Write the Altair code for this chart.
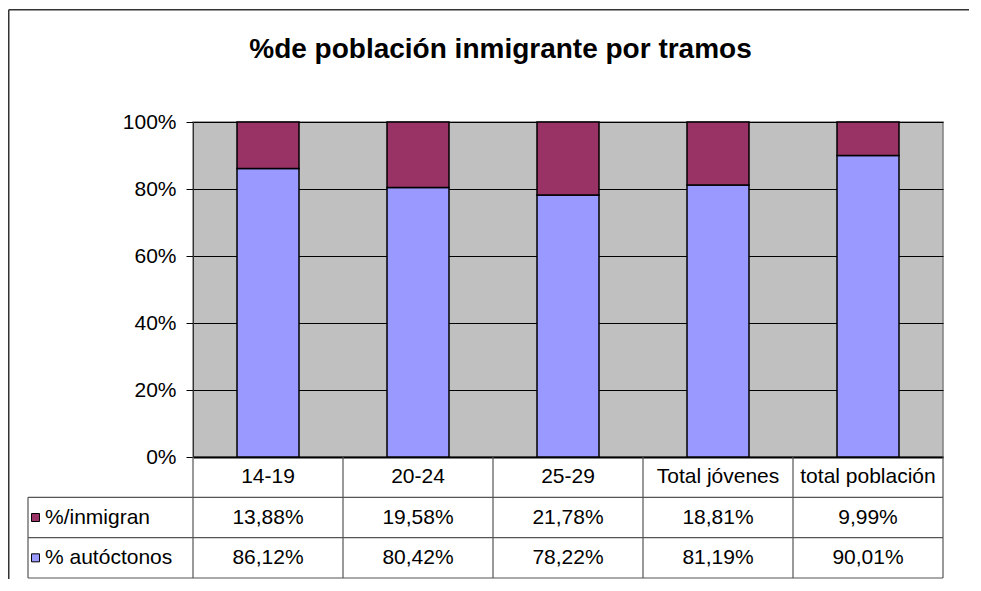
import altair as alt
import pandas as pd

# ---- data ----
categories = ["14-19", "20-24", "25-29", "Total jóvenes", "total población"]
series = ["%/inmigran", "% autóctonos"]
inmigran = [13.88, 19.58, 21.78, 18.81, 9.99]
autoctonos = [86.12, 80.42, 78.22, 81.19, 90.01]
y_ticks = [0, 20, 40, 60, 80, 100]
colors = ["#993366", "#9999FF"]
title_text = "%de población inmigrante por tramos"

FONT = "Liberation Sans"
W, H = 750, 335          # plot area
COLW = W / len(categories)
LEFT = -1.1              # legend column left edge, in column units
NROW = 3
ROWH = 121               # total table height in px
PAD = {"left": 185, "top": 114, "right": 30, "bottom": 126}


def pct(v):
    return f"{v:.2f}".replace(".", ",") + "%"


# ---- tables built from the arrays ----
bar_rows = []
for i, c in enumerate(categories):
    bar_rows.append({"cat": c, "serie": series[1], "value": autoctonos[i], "ord": 0})
    bar_rows.append({"cat": c, "serie": series[0], "value": inmigran[i], "ord": 1})
bars_df = pd.DataFrame(bar_rows)

cell_rows = []
for i, c in enumerate(categories):
    cell_rows.append({"col": i + 0.5, "row": 0.5, "text": c})
    cell_rows.append({"col": i + 0.5, "row": 1.5, "text": pct(inmigran[i])})
    cell_rows.append({"col": i + 0.5, "row": 2.5, "text": pct(autoctonos[i])})
cells_df = pd.DataFrame(cell_rows)

legend_df = pd.DataFrame({
    "serie": series,
    "row": [1.5, 2.5],
    "col": [LEFT + 0.05, LEFT + 0.05],
    "tcol": [LEFT, LEFT],
})

hl_df = pd.DataFrame({"row": [1, 2, 3], "col": [LEFT] * 3, "col2": [len(categories)] * 3})
vl_cols = list(range(len(categories) + 1)) + [LEFT]
vl_df = pd.DataFrame({
    "col": vl_cols,
    "row": [0] * (len(categories) + 1) + [1],
    "row2": [NROW] * len(vl_cols),
})
one_df = pd.DataFrame({"a": [0]})

tx = alt.Scale(domain=[LEFT, len(categories)], range=[LEFT * COLW, W], nice=False, zero=False)
ty = alt.Scale(domain=[0, NROW], range=[H, H + ROWH], nice=False, zero=False)
color_scale = alt.Scale(domain=series, range=colors)

bars = alt.Chart(bars_df).mark_bar(
    stroke="black", strokeWidth=1.5, width=alt.RelativeBandSize(62 / 150)
).encode(
    x=alt.X("cat:N", sort=categories,
            scale=alt.Scale(domain=categories, paddingInner=0, paddingOuter=0),
            axis=alt.Axis(labels=False, ticks=False, title=None,
                          domainColor="black", domainWidth=2)),
    y=alt.Y("value:Q", stack="zero",
            scale=alt.Scale(domain=[0, 100], nice=False),
            axis=alt.Axis(values=y_ticks, labelExpr="datum.value + '%'", title=None,
                          grid=True, gridColor="black", gridWidth=1,
                          tickColor="black", tickSize=7, labelPadding=10,
                          labelFontSize=21, labelFont=FONT, labelColor="black",
                          domainColor="#333")),
    color=alt.Color("serie:N", scale=color_scale, legend=None),
    order=alt.Order("ord:Q"),
)

hlines = alt.Chart(hl_df).mark_rule(color="#555", strokeWidth=1.2).encode(
    x=alt.X("col:Q", scale=tx, axis=None), x2="col2:Q",
    y=alt.Y("row:Q", scale=ty, axis=None),
)
vlines = alt.Chart(vl_df).mark_rule(color="#555", strokeWidth=1.2).encode(
    x=alt.X("col:Q", scale=tx, axis=None),
    y=alt.Y("row:Q", scale=ty, axis=None), y2="row2:Q",
)
cells = alt.Chart(cells_df).mark_text(
    font=FONT, fontSize=21, color="black", align="center", baseline="middle"
).encode(
    x=alt.X("col:Q", scale=tx, axis=None),
    y=alt.Y("row:Q", scale=ty, axis=None),
    text="text:N",
)
leg_sq = alt.Chart(legend_df).mark_point(
    shape="square", size=64, filled=True, stroke="black", strokeWidth=1, opacity=1
).encode(
    x=alt.X("col:Q", scale=tx, axis=None),
    y=alt.Y("row:Q", scale=ty, axis=None),
    color=alt.Color("serie:N", scale=color_scale, legend=None),
)
leg_txt = alt.Chart(legend_df).mark_text(
    font=FONT, fontSize=21, color="black", align="left", baseline="middle", dx=17
).encode(
    x=alt.X("tcol:Q", scale=tx, axis=None),
    y=alt.Y("row:Q", scale=ty, axis=None),
    text="serie:N",
)

# outer chart-area frame: left and top edges only, kept inside the page
fx = -PAD["left"] + 0.75
fy = -PAD["top"] + 1.75
frame_left = alt.Chart(one_df).mark_rule(color="#333", strokeWidth=1.5).encode(
    x=alt.value(fx), x2=alt.value(fx), y=alt.value(fy), y2=alt.value(H + PAD["bottom"] - 4)
)
frame_top = alt.Chart(one_df).mark_rule(color="#333", strokeWidth=1.5).encode(
    x=alt.value(fx), x2=alt.value(W + PAD["right"] - 4), y=alt.value(fy), y2=alt.value(fy)
)

chart = alt.layer(
    frame_left, frame_top, bars, hlines, vlines, cells, leg_sq, leg_txt
).resolve_scale(
    x="independent", y="independent"
).properties(
    width=W, height=H,
    background="white",
    autosize=alt.AutoSizeParams(type="none"),
    padding=PAD,
    title=alt.TitleParams(title_text, font=FONT, fontSize=28, fontWeight="bold",
                          anchor="middle", frame="group", dx=-67.5,
                          offset=-77, baseline="alphabetic", color="black"),
).configure_view(
    fill="#C0C0C0", stroke="#808080", strokeWidth=1.5
)

chart.save("out.html", embed_options={"renderer": "svg", "actions": False})
